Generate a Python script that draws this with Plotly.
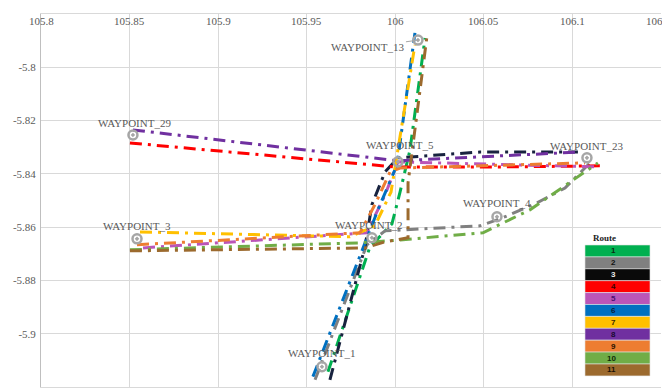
import plotly.graph_objects as go

# ---------------- data ----------------
X_TICKS = [105.8, 105.85, 105.9, 105.95, 106.0, 106.05, 106.1, 106.15]
X_TICK_TEXT = ["105.8", "105.85", "105.9", "105.95", "106", "106.05", "106.1", "106.15"]
Y_TICKS = [-5.78, -5.8, -5.82, -5.84, -5.86, -5.88, -5.9, -5.92]
Y_TICK_TEXT = ["-5.78", "-5.8", "-5.82", "-5.84", "-5.86", "-5.88", "-5.9", "-5.92"]

WP_NAMES = ["WAYPOINT_1", "WAYPOINT_2", "WAYPOINT_3", "WAYPOINT_4", "WAYPOINT_5",
            "WAYPOINT_13", "WAYPOINT_23", "WAYPOINT_29"]
WP_X = [105.9586, 105.9868, 105.8542, 106.0574, 106.0015, 106.0128, 106.1082, 105.8519]
WP_Y = [-5.9124, -5.8640, -5.8644, -5.8561, -5.8355, -5.7898, -5.8340, -5.8254]

ROUTE_NAMES = ["1", "2", "3", "4", "5", "6", "7", "8", "9", "10", "11"]

R1_X = [105.9620, 105.9857, 105.9981, 106.0027, 106.0083, 106.0168]
R1_Y = [-5.9143, -5.8674, -5.8588, -5.8468, -5.8310, -5.7890]

R2_X = [105.9547, 105.9840, 105.9942, 106.0478, 106.0591, 106.0800, 106.0958, 106.1099]
R2_Y = [-5.9173, -5.8666, -5.8614, -5.8595, -5.8569, -5.8509, -5.8453, -5.8359]

R3_X = [105.9631, 105.9829, 105.9868, 105.9942, 106.0015, 106.0478, 106.1031]
R3_Y = [-5.9173, -5.8674, -5.8516, -5.8393, -5.8340, -5.8318, -5.8318]

R4_X = [105.8502, 105.9998, 106.0591, 106.1156]
R4_Y = [-5.8284, -5.8374, -5.8374, -5.8370]

R5_X = [105.8576, 105.9840, 105.9942, 106.0015, 106.1156]
R5_Y = [-5.8678, -5.8621, -5.8479, -5.8355, -5.8374]

R6_X = [105.9535, 105.9812, 105.9902, 106.0010, 106.0111]
R6_Y = [-5.9161, -5.8685, -5.8535, -5.8366, -5.7871]

R7_X = [105.8559, 105.9744, 105.9885, 105.9976, 106.0111]
R7_Y = [-5.8618, -5.8636, -5.8595, -5.8468, -5.7916]

R8_X = [105.8519, 106.0015, 106.1043]
R8_Y = [-5.8235, -5.8351, -5.8318]

R9_X = [105.8542, 105.9801, 105.9885, 105.9970, 106.0027, 106.1071]
R9_Y = [-5.8666, -5.8621, -5.8516, -5.8393, -5.8378, -5.8359]

R10_X = [105.8502, 105.9801, 106.0027, 106.0495, 106.0760, 106.0969, 106.1144]
R10_Y = [-5.8685, -5.8659, -5.8648, -5.8621, -5.8535, -5.8441, -5.8359]

R11_X = [105.8502, 105.9829, 105.9942, 106.0072, 106.0072, 106.0179]
R11_Y = [-5.8689, -5.8678, -5.8655, -5.8640, -5.8434, -5.7883]

# ---------------- styles ----------------
LINE_COLORS = ["#00B050", "#808080", "#18233F", "#FF0000", "#BB55B8", "#0070C0",
               "#FFC000", "#7030A0", "#ED7D31", "#70AD47", "#9C6A2E"]
CELL_COLORS = ["#00B050", "#808080", "#0A0A0A", "#FF0000", "#BB55B8", "#0070C0",
               "#FFC000", "#7030A0", "#ED7D31", "#70AD47", "#9C6A2E"]
CELL_TEXT = ["#0b2a14", "#111111", "#e8e8e8", "#3a0000", "#4a1070", "#0a1f3a",
             "#3a2a00", "#1a0a30", "#2a1200", "#0f2a08", "#1a1005"]

route_x = [R1_X, R2_X, R3_X, R4_X, R5_X, R6_X, R7_X, R8_X, R9_X, R10_X, R11_X]
route_y = [R1_Y, R2_Y, R3_Y, R4_Y, R5_Y, R6_Y, R7_Y, R8_Y, R9_Y, R10_Y, R11_Y]

SERIF = "Liberation Serif"
GRAY_TXT = "#595959"

fig = go.Figure()

for i, name in enumerate(ROUTE_NAMES):
    fig.add_trace(go.Scatter(
        x=route_x[i], y=route_y[i], mode="lines", name=name,
        line=dict(color=LINE_COLORS[i], width=3, dash="12px,6px,3px,6px"),
        showlegend=False, hoverinfo="skip"))

fig.add_trace(go.Scatter(
    x=WP_X, y=WP_Y, mode="markers", showlegend=False,
    marker=dict(symbol="circle-open-dot", size=9, color="#A6A6A6",
                line=dict(width=2.5, color="#A6A6A6"))))

# waypoint labels (offsets in px)
label_shift = {
    "WAYPOINT_1": (0, 14), "WAYPOINT_2": (-3, 13), "WAYPOINT_3": (0, 13),
    "WAYPOINT_4": (0, 14), "WAYPOINT_5": (2, 17), "WAYPOINT_23": (0, 12),
    "WAYPOINT_29": (2, 12),
}
for n, x, y in zip(WP_NAMES, WP_X, WP_Y):
    if n == "WAYPOINT_13":
        fig.add_annotation(x=x, y=y, text=n, showarrow=True, arrowhead=0,
                           arrowwidth=1, arrowcolor="#A6A6A6", ax=-50, ay=7,
                           font=dict(family=SERIF, size=11, color=GRAY_TXT))
    else:
        dx, dy = label_shift[n]
        fig.add_annotation(x=x, y=y, text=n, showarrow=False, xshift=dx, yshift=dy,
                           font=dict(family=SERIF, size=11, color=GRAY_TXT))

# x tick labels drawn just below the top edge (Excel style)
for v, t in zip(X_TICKS, X_TICK_TEXT):
    fig.add_annotation(x=v, xref="x", y=1, yref="paper", text=t, showarrow=False,
                       yanchor="top", yshift=1, xanchor="center",
                       font=dict(family=SERIF, size=11, color=GRAY_TXT))

# route table legend (paper coordinates)
x0, x1 = 0.8774, 0.9823
top, cell_h = 0.3807, 0.0319
fig.add_annotation(xref="paper", yref="paper", x=(x0 + x1) / 2, y=top,
                   text="<b>Route</b>", showarrow=False, yanchor="bottom",
                   font=dict(family=SERIF, size=9, color="#222222"))
for i, name in enumerate(ROUTE_NAMES):
    yt = top - i * cell_h
    fig.add_shape(type="rect", xref="paper", yref="paper", x0=x0, x1=x1,
                  y0=yt - cell_h, y1=yt, fillcolor=CELL_COLORS[i],
                  line=dict(color="#E6E6E6", width=0.6), layer="above")
    fig.add_annotation(xref="paper", yref="paper", x=(x0 + x1) / 2, y=yt - cell_h / 2,
                       yanchor="middle", text="<b>%s</b>" % name, showarrow=False,
                       font=dict(family="Liberation Sans", size=8, color=CELL_TEXT[i]))

# the page body adds an 8px offset, so the figure is sized to fit the window
fig.update_layout(
    width=662, height=383,
    margin=dict(l=33, r=9, t=6, b=4, autoexpand=False),
    paper_bgcolor="white", plot_bgcolor="white",
    xaxis=dict(range=[105.8, 106.15], tickvals=X_TICKS, showticklabels=False,
               showgrid=True, gridcolor="#D9D9D9", gridwidth=1, zeroline=False,
               showline=True, linecolor="#D9D9D9", mirror=True, ticks="",
               automargin=False),
    yaxis=dict(range=[-5.92, -5.78], tickvals=Y_TICKS, ticktext=Y_TICK_TEXT,
               showgrid=True, gridcolor="#D9D9D9", gridwidth=1, zeroline=False,
               showline=True, linecolor="#BFBFBF", ticks="", automargin=False,
               ticklabelstandoff=2,
               tickfont=dict(family=SERIF, size=11, color=GRAY_TXT)),
)

fig.write_html("out.html")
